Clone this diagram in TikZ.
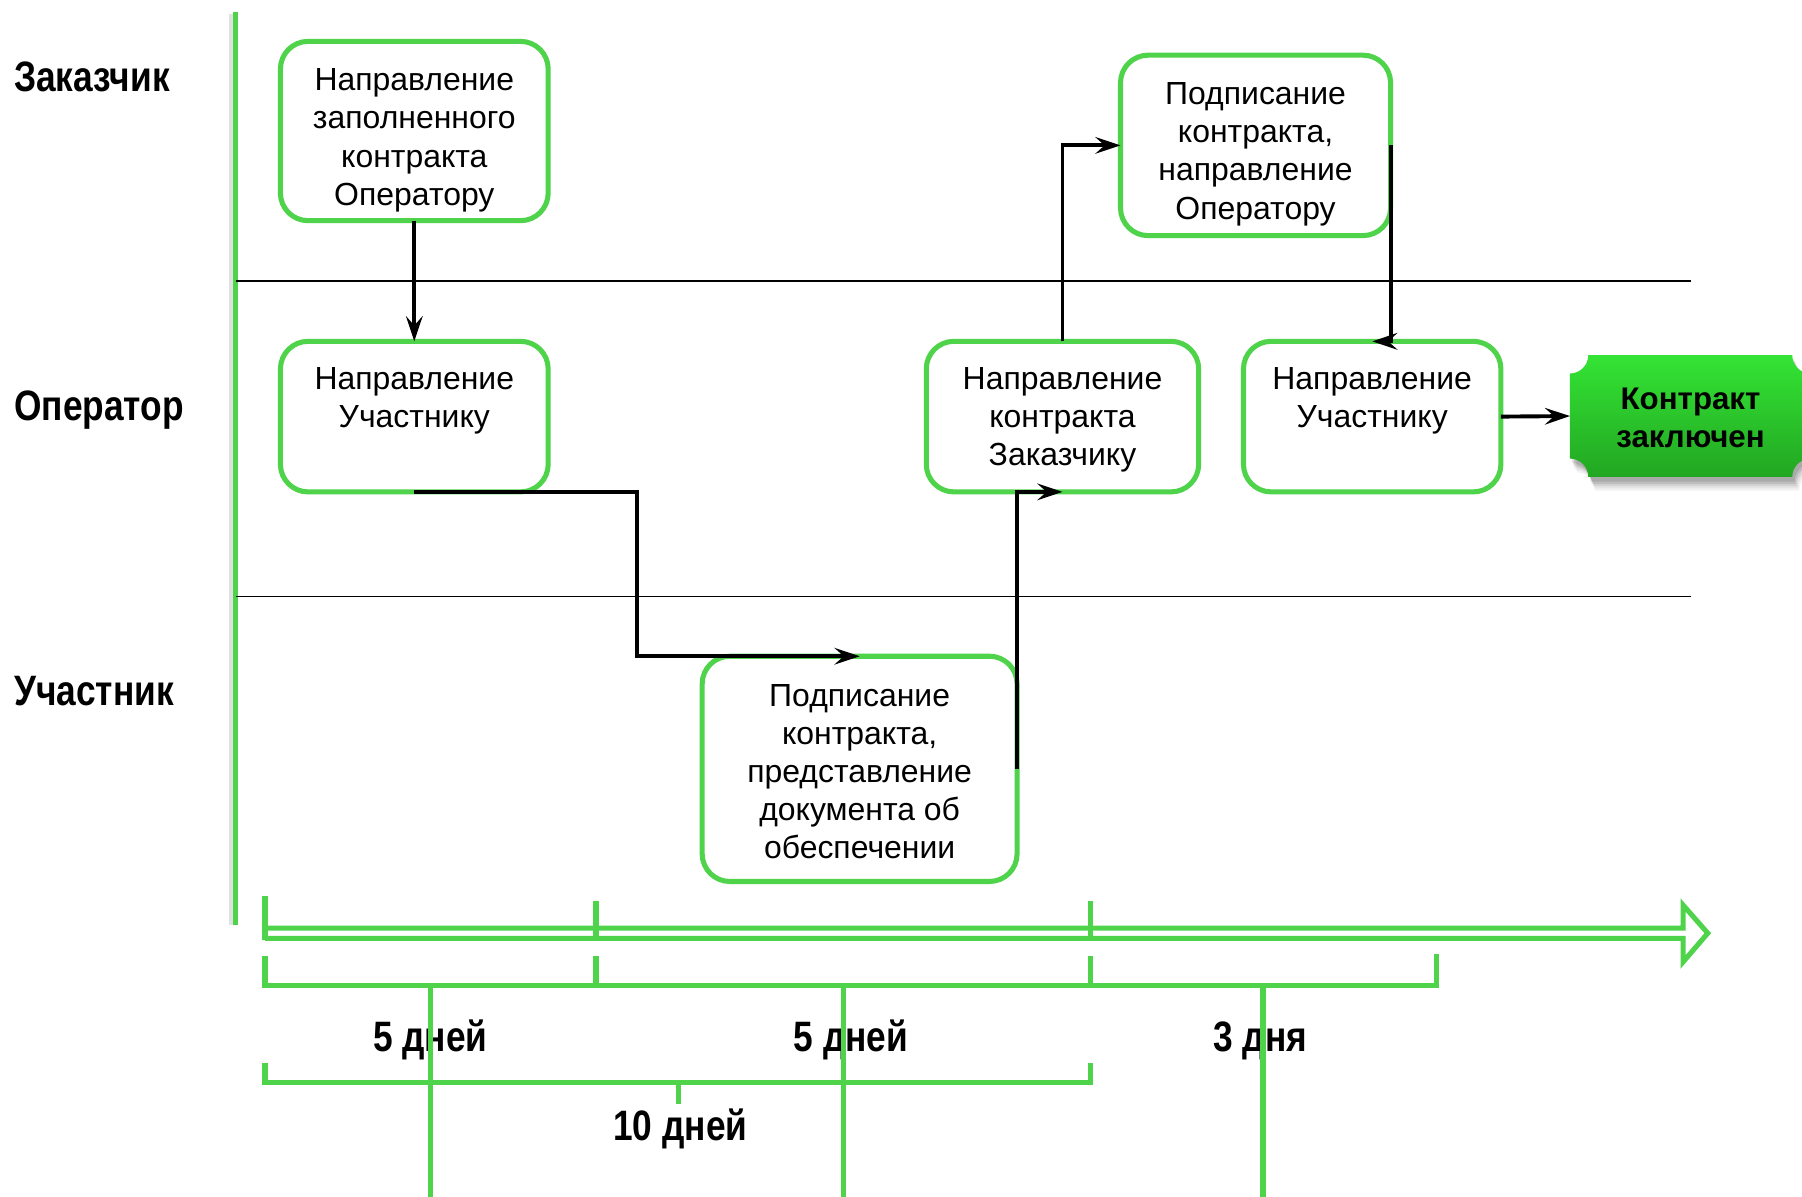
\documentclass[tikz,border=0pt]{standalone}
\usepackage{fontspec}
\usepackage{graphicx}
\setmainfont{Liberation Sans}
\usetikzlibrary{arrows.meta}
\definecolor{gr}{RGB}{78,211,74}
\definecolor{gtop}{RGB}{52,228,52}
\definecolor{gbot}{RGB}{34,166,34}
\newcommand{\narrowtxt}[1]{\scalebox{0.83}[1]{#1}}
\begin{document}
\begin{tikzpicture}[x=0.5pt,y=-0.5pt,
  box/.style={draw=gr, line width=2.2pt, rounded corners=12pt, fill=white, inner sep=0pt, outer sep=0pt},
  boxtext/.style={anchor=north, align=center, inner sep=0pt, font=\fontsize{13.9}{16.6}\selectfont},
  conn/.style={line width=1.7pt, -{Stealth[length=10.9pt,width=7.2pt,inset=4pt]}},
  lane/.style={anchor=base west, inner sep=0pt, font=\fontsize{18.5}{22}\selectfont\bfseries},
  dur/.style={anchor=base, inner sep=0pt, font=\fontsize{18.5}{22}\selectfont\bfseries},
  tl/.style={draw=gr, line width=2.2pt},
]
\useasboundingbox (0,0) rectangle (1568,1041);

% left vertical line with shadow
\draw[black, opacity=0.12, line width=2pt] (201.5,12) -- (201.5,805);
\draw[gr, line width=2.2pt] (205,10) -- (205,805);

% lane separators
\draw[line width=0.8pt] (205,244.5) -- (1471,244.5);
\draw[line width=0.8pt] (205,519) -- (1471,519);

% lane labels
\node[lane] (lz) at (12,80) {\narrowtxt{Заказчик}};
\node[lane] (lo) at (12,366) {\narrowtxt{Оператор}};
\node[lane] (lu) at (12,614) {\narrowtxt{Участник}};

% boxes
\node[box, minimum width=116.5pt, minimum height=78pt] (A) at (360.5,114) {};
\node[box, minimum width=116.5pt, minimum height=65.5pt] (B) at (360.5,362.5) {};
\node[box, minimum width=118.5pt, minimum height=65.5pt] (C) at (924.5,362.5) {};
\node[box, minimum width=117.5pt, minimum height=78.5pt] (D) at (1092.5,126.5) {};
\node[box, minimum width=112pt, minimum height=65.5pt] (E) at (1194,362.5) {};
\node[box, minimum width=137pt, minimum height=98pt] (F) at (748,669) {};

\node[boxtext] (tA) at (360.5,59.5) {Направление\\заполненного\\контракта\\Оператору};
\node[boxtext] (tB) at (360.5,319.5) {Направление\\Участнику};
\node[boxtext] (tC) at (924.5,319.5) {Направление\\контракта\\Заказчику};
\node[boxtext] (tD) at (1092.5,71.5) {Подписание\\контракта,\\направление\\Оператору};
\node[boxtext] (tE) at (1194,319.5) {Направление\\Участнику};
\node[boxtext] (tF) at (748,595) {Подписание\\контракта,\\представление\\документа об\\обеспечении};

% final node shape (concave corners) with soft shadow
\foreach \dx/\dy/\op in {3/-6/0.05, 2.5/-5/0.06, 2/-4/0.08, 1.5/-3/0.1, 1/-2/0.1} {
  \fill[black, opacity=\op, xshift=\dx pt, yshift=\dy pt]
    (691pt,-154.5pt) -- (779.75pt,-154.5pt) arc[start angle=180,end angle=270,radius=8pt]
    -- (787.75pt,-199.5pt) arc[start angle=90,end angle=180,radius=8pt]
    -- (691pt,-207.5pt) arc[start angle=0,end angle=90,radius=8pt]
    -- (683pt,-162.5pt) arc[start angle=270,end angle=360,radius=8pt] -- cycle;
}
\shade[top color=gtop, bottom color=gbot]
    (691pt,-154.5pt) -- (779.75pt,-154.5pt) arc[start angle=180,end angle=270,radius=8pt]
    -- (787.75pt,-199.5pt) arc[start angle=90,end angle=180,radius=8pt]
    -- (691pt,-207.5pt) arc[start angle=0,end angle=90,radius=8pt]
    -- (683pt,-162.5pt) arc[start angle=270,end angle=360,radius=8pt] -- cycle;
\node[inner sep=0pt, outer sep=0pt, minimum width=104.75pt, minimum height=53pt] (K) at (1470.9,362) {};
\node[align=center, inner sep=0pt, font=\fontsize{13.6}{16.5}\selectfont\bfseries] (tK) at (1471,364) {Контракт\\заключен};

% connectors
\coordinate (jB) at (554,500);
\draw[conn] (A.south) -- (B.north);
\draw[conn] (B.south) -| (jB) |- (F.north);
\draw[conn] (F.east) |- (C.south);
\draw[conn] (C.north) |- (D.west);
\draw[conn] (D.east) |- (E.north);
\draw[conn] (E.east) -- (K.west);

% timeline arrow
\draw[tl] (230.6,807.5) -- (1464.5,807.5) -- (1464.5,787.5) -- (1486,812) -- (1464.5,837) -- (1464.5,816.5) -- (230.6,816.5);
\draw[tl] (230.6,780) -- (230.6,818);
\draw[tl] (518.6,784) -- (518.6,814);
\draw[tl] (949,784) -- (949,814);

% bracket row 2
\draw[tl] (230.6,832) -- (230.6,857.7) -- (1250,857.7) -- (1250,830);
\draw[tl] (518.6,832) -- (518.6,857.7);
\draw[tl] (949,832) -- (949,857.7);

% bracket row 3
\draw[tl] (230.6,925) -- (230.6,942) -- (949,942) -- (949,925);
\draw[tl] (590,942) -- (590,961);

% duration labels
\node[dur] (d1) at (374.5,915) {\narrowtxt{5 дней}};
\node[dur] (d2) at (740.5,915) {\narrowtxt{5 дней}};
\node[dur] (d3) at (1096.5,915) {\narrowtxt{3 дня}};
\node[dur] (d4) at (592,992) {\narrowtxt{10 дней}};

% stems
\draw[tl] (375,857.7) -- (375,1045);
\draw[tl] (734,857.7) -- (734,1045);
\draw[tl] (1099,857.7) -- (1099,1045);
\end{tikzpicture}
\end{document}
